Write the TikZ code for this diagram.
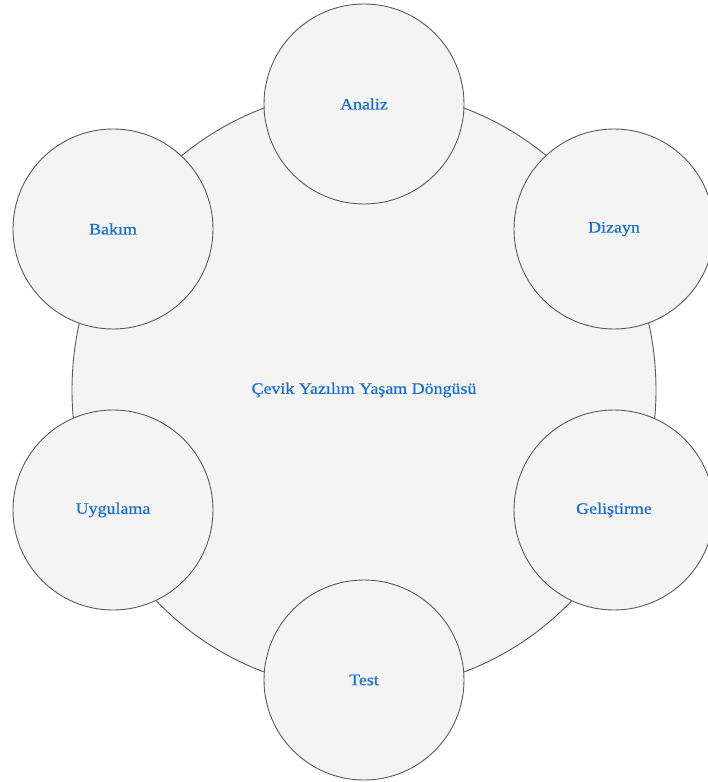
\documentclass[tikz,border=0pt]{standalone}
\usepackage{fontspec}
\setmainfont{Liberation Serif}
\newfontfamily\phasefont{Liberation Serif}[FakeStretch=1.12,FakeBold=0.6]
\usetikzlibrary{shapes.geometric}
\definecolor{phasefill}{HTML}{F4F4F4}
\definecolor{phaseline}{HTML}{5A5A5A}
\definecolor{phasetext}{HTML}{1A6FD6}
\begin{document}
\begin{tikzpicture}[x=1pt,y=-1pt,
  phase/.style={circle,draw=phaseline,fill=phasefill,line width=0.9pt,
    minimum size=200pt,inner sep=0pt,text=phasetext,font=\phasefont\fontsize{16}{18}\selectfont},
  cycle/.style={ellipse,draw=phaseline,fill=phasefill,line width=0.9pt,
    minimum width=584pt,minimum height=600pt,inner sep=0pt,text=phasetext,font=\phasefont\fontsize{16}{18}\selectfont}]
\useasboundingbox (0,0) rectangle (708,782);
\begin{scope}
\clip (0,0) rectangle (708,782);
\node[cycle] (core) at (364,390) {Çevik Yazılım Yaşam Döngüsü};
\node[phase] (analiz) at (364,104) {Analiz};
\node[phase] (dizayn) at (614,229) {Dizayn};
\node[phase] (gelistirme) at (614,510) {Geliştirme};
\node[phase] (test) at (364,680) {Test};
\node[phase] (uygulama) at (113,510) {Uygulama};
\node[phase] (bakim) at (113,229) {Bakım};
\end{scope}
\end{tikzpicture}
\end{document}
